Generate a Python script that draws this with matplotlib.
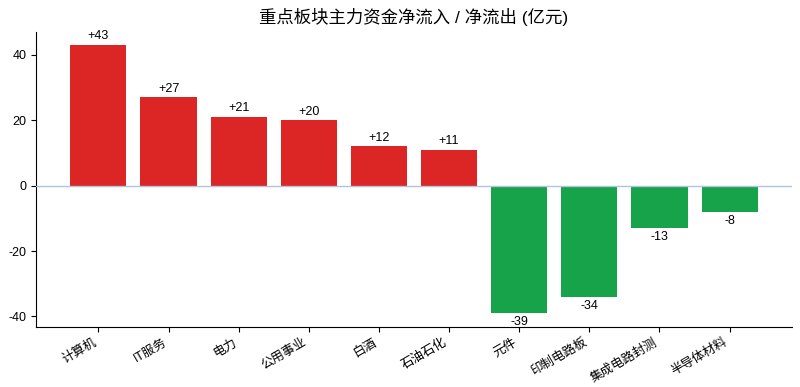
import matplotlib
matplotlib.use("Agg")
import matplotlib.pyplot as plt

plt.rcParams['font.family'] = ['Liberation Sans', 'Noto Sans CJK SC', 'DejaVu Sans']
plt.rcParams['axes.unicode_minus'] = False

categories = ["计算机", "IT服务", "电力", "公用事业", "白酒", "石油石化", "元件", "印制电路板", "集成电路封测", "半导体材料"]
values = [43, 27, 21, 20, 12, 11, -39, -34, -13, -8]

red = "#dc2626"
green = "#16a34a"
colors = [red if v >= 0 else green for v in values]

fig = plt.figure(figsize=(8, 3.87), dpi=100)
ax = fig.add_axes([0.045, 0.156, 0.945, 0.762])
x = list(range(len(categories)))
bars = ax.bar(x, values, width=0.8, color=colors, zorder=2)
ax.axhline(0, color="#b0c4de", linewidth=1, zorder=3)

for xi, v in zip(x, values):
    label = f"+{v}" if v > 0 else f"{v}"
    if v >= 0:
        ax.annotate(label, (xi, v), xytext=(0, 2), textcoords="offset points",
                    ha="center", va="bottom", fontsize=9)
    else:
        ax.annotate(label, (xi, v), xytext=(0, -2), textcoords="offset points",
                    ha="center", va="top", fontsize=9)

ax.set_xticks(x)
ax.set_xticklabels(categories, rotation=30, ha="right", fontsize=9)
ax.set_yticks([-40, -20, 0, 20, 40])
ax.tick_params(axis="y", labelsize=9)
ax.spines["top"].set_visible(False)
ax.spines["right"].set_visible(False)
ax.set_title("重点板块主力资金净流入 / 净流出 (亿元)", fontsize=12.5, pad=6)

fig.savefig("out.png", dpi=100)
